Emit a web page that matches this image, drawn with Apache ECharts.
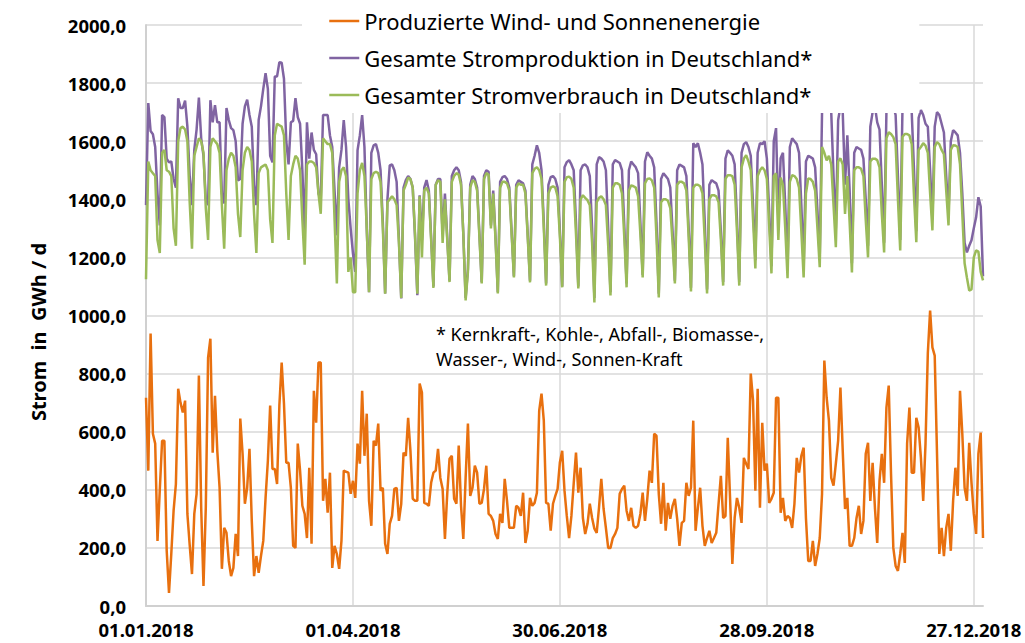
<!DOCTYPE html>
<html>
<head>
<meta charset="utf-8">
<script src="https://cdn.jsdelivr.net/npm/echarts/dist/echarts.min.js"></script>
<style>
  html, body { margin: 0; padding: 0; background: #fff; }
  #chart { width: 1025px; height: 643px; }
</style>
</head>
<body>
<div id="chart"></div>
<script>
// Tägliche Werte 2018 in GWh/d
const seriesNames = [
  'Produzierte Wind- und Sonnenenergie',
  'Gesamte Stromproduktion in Deutschland*',
  'Gesamter Stromverbrauch in Deutschland*'
]

// Wind + Sonne
const windSolar = [
  717,466,938,593,559,224,400,569,569,190,
  45,180,328,420,748,700,666,707,317,210,
  110,317,386,793,338,69,338,855,920,528,
  724,534,407,128,269,252,155,103,131,248,
  172,645,524,352,407,541,293,103,172,114,
  172,224,372,500,690,472,472,420,690,838,
  697,493,493,407,207,200,559,466,345,317,
  234,476,214,741,631,838,838,362,438,321,
  459,131,207,179,128,224,466,462,459,386,
  431,372,559,490,741,517,662,362,276,569,
  552,628,397,407,214,179,283,310,403,407,
  293,352,528,517,648,534,369,362,362,766,
  735,355,352,345,424,459,466,541,441,403,
  231,386,507,517,369,352,552,345,231,441,
  628,379,407,483,459,352,355,403,483,317,
  310,293,248,231,317,286,438,362,269,269,
  269,345,338,310,390,217,259,372,345,355,
  390,672,731,638,355,352,259,352,379,403,
  495,534,397,310,234,310,421,528,390,476,
  303,248,283,352,303,266,252,338,438,334,
  269,200,200,234,248,269,386,403,414,328,
  293,338,276,269,276,317,390,293,369,466,
  424,593,586,386,283,424,259,355,300,345,
  369,300,207,286,293,424,379,407,638,259,
  338,407,276,207,234,259,217,234,252,352,
  448,303,310,579,372,145,303,372,338,286,
  510,490,472,800,707,397,748,338,631,466,
  490,355,369,390,717,717,321,372,293,310,
  303,269,352,510,459,517,545,303,155,155,
  224,138,179,234,386,845,717,638,441,414,
  490,569,752,534,334,372,207,207,234,303,
  345,248,293,524,562,362,493,338,217,431,
  524,424,683,759,455,200,138,121,179,252,
  148,559,683,459,459,648,614,510,362,559,
  869,1017,890,862,524,179,269,172,269,317,
  190,362,476,379,741,593,407,362,562,424,
  317,248,524,597,234
]

// Gesamte Stromproduktion (je Zeile eine Woche Mo-So)
const production = [
  1380,1731,1635,1624,1580,1420,1310,
  1690,1683,1540,1527,1530,1470,1440,
  1748,1714,1714,1740,1650,1480,1380,
  1570,1640,1750,1610,1550,1400,1380,
  1741,1665,1724,1665,1665,1420,1386,
  1714,1673,1645,1638,1600,1465,1470,
  1660,1720,1743,1690,1650,1450,1380,
  1673,1720,1780,1834,1780,1550,1527,
  1823,1823,1872,1870,1815,1600,1520,
  1665,1670,1748,1683,1660,1500,1280,
  1665,1540,1630,1570,1555,1420,1400,
  1690,1690,1690,1620,1580,1430,1276,
  1510,1570,1673,1580,1400,1300,1214,
  1150,1569,1620,1690,1580,1300,1080,
  1560,1586,1590,1560,1500,1320,1076,
  1400,1517,1520,1500,1460,1260,1059,
  1440,1466,1480,1470,1440,1270,1070,
  1414,1259,1440,1466,1430,1270,1100,
  1450,1470,1470,1280,1420,1270,1120,
  1480,1500,1510,1500,1460,1280,1060,
  1160,1450,1480,1470,1440,1280,1115,
  1480,1500,1495,1310,1430,1270,1080,
  1460,1476,1480,1470,1440,1290,1135,
  1450,1465,1460,1455,1430,1280,1120,
  1520,1550,1586,1560,1500,1320,1110,
  1450,1476,1480,1470,1440,1290,1100,
  1510,1528,1535,1520,1500,1320,1100,
  1500,1517,1520,1510,1480,1300,1060,
  1520,1545,1540,1530,1500,1300,1080,
  1520,1535,1530,1525,1500,1310,1110,
  1500,1530,1520,1510,1490,1320,1140,
  1530,1562,1550,1540,1510,1320,1075,
  1470,1490,1480,1470,1440,1290,1120,
  1500,1520,1515,1510,1480,1300,1095,
  1593,1580,1593,1560,1520,1320,1090,
  1450,1466,1460,1455,1430,1290,1115,
  1540,1569,1560,1550,1520,1330,1115,
  1560,1590,1597,1580,1550,1380,1190,
  1560,1593,1590,1600,1540,1360,1170,
  1600,1645,1330,1541,1560,1380,1160,
  1580,1610,1600,1590,1560,1380,1170,
  1530,1550,1545,1540,1510,1360,1200,
  1700,1760,1780,1740,1700,1480,1300,
  1672,1720,1700,1450,1620,1430,1180,
  1560,1580,1575,1570,1540,1400,1240,
  1650,1700,1720,1665,1640,1450,1250,
  1700,1720,1740,1720,1690,1480,1260,
  1720,1765,1740,1730,1700,1500,1290,
  1680,1707,1690,1660,1650,1500,1330,
  1650,1700,1690,1660,1630,1480,1350,
  1600,1638,1630,1620,1560,1420,1250,
  1217,1240,1259,1300,1338,1407,1375,
  1135
]

// Gesamter Stromverbrauch (je Zeile eine Woche Mo-So)
const consumption = [
  1125,1530,1500,1490,1480,1260,1215,
  1560,1570,1500,1495,1480,1300,1240,
  1600,1645,1650,1640,1600,1390,1230,
  1550,1580,1610,1600,1560,1370,1260,
  1580,1610,1600,1590,1560,1380,1230,
  1500,1540,1560,1550,1510,1350,1270,
  1500,1560,1580,1570,1530,1350,1215,
  1490,1510,1515,1520,1500,1330,1250,
  1620,1660,1655,1650,1620,1420,1260,
  1480,1520,1550,1540,1500,1330,1175,
  1520,1530,1530,1525,1510,1420,1350,
  1610,1600,1590,1590,1560,1330,1110,
  1460,1500,1510,1480,1150,1200,1080,
  1080,1420,1500,1525,1480,1300,1080,
  1470,1490,1495,1490,1460,1300,1075,
  1390,1400,1410,1400,1380,1250,1060,
  1430,1450,1475,1470,1440,1280,1075,
  1410,1200,1430,1440,1420,1260,1095,
  1450,1465,1460,1250,1400,1260,1115,
  1460,1480,1490,1485,1450,1280,1052,
  1150,1440,1465,1460,1430,1270,1110,
  1470,1490,1485,1300,1420,1260,1076,
  1440,1460,1460,1455,1430,1280,1131,
  1440,1455,1450,1450,1420,1270,1114,
  1490,1505,1510,1500,1470,1300,1103,
  1420,1440,1445,1440,1410,1270,1097,
  1460,1476,1478,1470,1440,1280,1093,
  1400,1414,1405,1397,1380,1250,1045,
  1390,1405,1410,1400,1380,1240,1069,
  1440,1455,1455,1450,1420,1270,1097,
  1430,1448,1445,1440,1410,1280,1131,
  1455,1470,1472,1465,1440,1270,1062,
  1390,1400,1400,1395,1370,1250,1110,
  1450,1460,1460,1455,1430,1270,1083,
  1440,1450,1450,1445,1420,1260,1076,
  1400,1414,1414,1410,1390,1260,1103,
  1470,1483,1483,1480,1450,1290,1103,
  1510,1540,1552,1530,1500,1330,1162,
  1480,1500,1510,1500,1470,1310,1145,
  1480,1489,1260,1475,1450,1300,1128,
  1460,1483,1480,1470,1440,1290,1131,
  1420,1472,1470,1460,1430,1300,1166,
  1580,1560,1534,1550,1520,1380,1235,
  1530,1541,1520,1350,1480,1320,1148,
  1500,1510,1510,1505,1480,1330,1200,
  1530,1540,1540,1535,1510,1350,1217,
  1610,1631,1625,1614,1590,1400,1224,
  1615,1625,1625,1620,1590,1410,1252,
  1570,1580,1593,1585,1560,1420,1293,
  1580,1597,1590,1570,1555,1430,1310,
  1570,1586,1585,1580,1520,1350,1180,
  1131,1086,1090,1200,1224,1220,1150,
  1121
]

// Datumsbeschriftung der Kategorieachse (dd.mm.yyyy)
const categories = []
for (let d = new Date(Date.UTC(2018, 0, 1)); d.getUTCFullYear() === 2018; d.setUTCDate(d.getUTCDate() + 1)) {
  const dd = String(d.getUTCDate()).padStart(2, '0')
  const mm = String(d.getUTCMonth() + 1).padStart(2, '0')
  categories.push(dd + '.' + mm + '.2018')
}

const colors = ['#E8700F', '#8064A2', '#9BBB59']
const font = 'Noto Sans'

const chart = echarts.init(document.getElementById('chart'), null, { renderer: 'svg' })

const option = {
  animation: false,
  backgroundColor: '#fff',
  color: colors,
  grid: {
    left: 146,
    right: 42,
    top: 25,
    bottom: 37
  },
  legend: {
    orient: 'vertical',
    left: 302,
    top: 0,
    padding: [10, 107, 7, 26],
    itemGap: 15,
    itemWidth: 30,
    itemHeight: 14,
    backgroundColor: '#fff',
    itemStyle: { opacity: 0 },  // nur die Linie, kein Symbol
    lineStyle: { width: 2.5 },
    textStyle: {
      fontFamily: font,
      fontSize: 22,
      color: '#000'
    },
    data: seriesNames
  },
  xAxis: {
    type: 'category',
    boundaryGap: false,
    data: categories,
    axisLine: { lineStyle: { color: '#D0D0D0', width: 2 } },
    axisTick: { show: false },
    axisLabel: {
      interval: (i) => i % 90 === 0,
      margin: 14,
      lineHeight: 19,
      fontFamily: font,
      fontWeight: 'bold',
      fontSize: 18.5,
      color: '#000'
    },
    splitLine: {
      show: true,
      interval: (i) => i % 90 === 0,
      lineStyle: { color: '#D9D9D9', width: 1.5 }
    }
  },
  yAxis: {
    type: 'value',
    min: 0,
    max: 2000,
    interval: 200,
    axisLine: { show: true, lineStyle: { color: '#D0D0D0', width: 2 } },
    axisTick: { show: false },
    axisLabel: {
      margin: 20,
      fontFamily: font,
      fontWeight: 'bold',
      fontSize: 18.5,
      color: '#000',
      formatter: (v) => v.toFixed(1).replace('.', ',')
    },
    splitLine: { lineStyle: { color: '#D9D9D9', width: 1.5 } }
  },
  graphic: [
    {
      type: 'text',
      x: 38,
      y: 332,
      rotation: Math.PI / 2,
      style: {
        text: 'Strom  in  GWh / d',
        fontFamily: font,
        fontWeight: 'bold',
        fontSize: 20,
        fill: '#000',
        align: 'center',
        verticalAlign: 'middle'
      }
    },
    {
      type: 'text',
      x: 436,
      y: 321,
      z: 10,
      style: {
        text: '* Kernkraft-, Kohle-, Abfall-, Biomasse-,\nWasser-, Wind-, Sonnen-Kraft',
        fontFamily: font,
        fontSize: 18,
        lineHeight: 25,
        fill: '#000',
        align: 'left',
        verticalAlign: 'top'
      }
    }
  ],
  series: [
    { name: seriesNames[0], type: 'line', data: windSolar, symbol: 'none', lineStyle: { width: 2.5 } },
    { name: seriesNames[1], type: 'line', data: production, symbol: 'none', lineStyle: { width: 2.5 } },
    { name: seriesNames[2], type: 'line', data: consumption, symbol: 'none', lineStyle: { width: 2.5 } }
  ]
}

chart.setOption(option)
</script>
</body>
</html>
